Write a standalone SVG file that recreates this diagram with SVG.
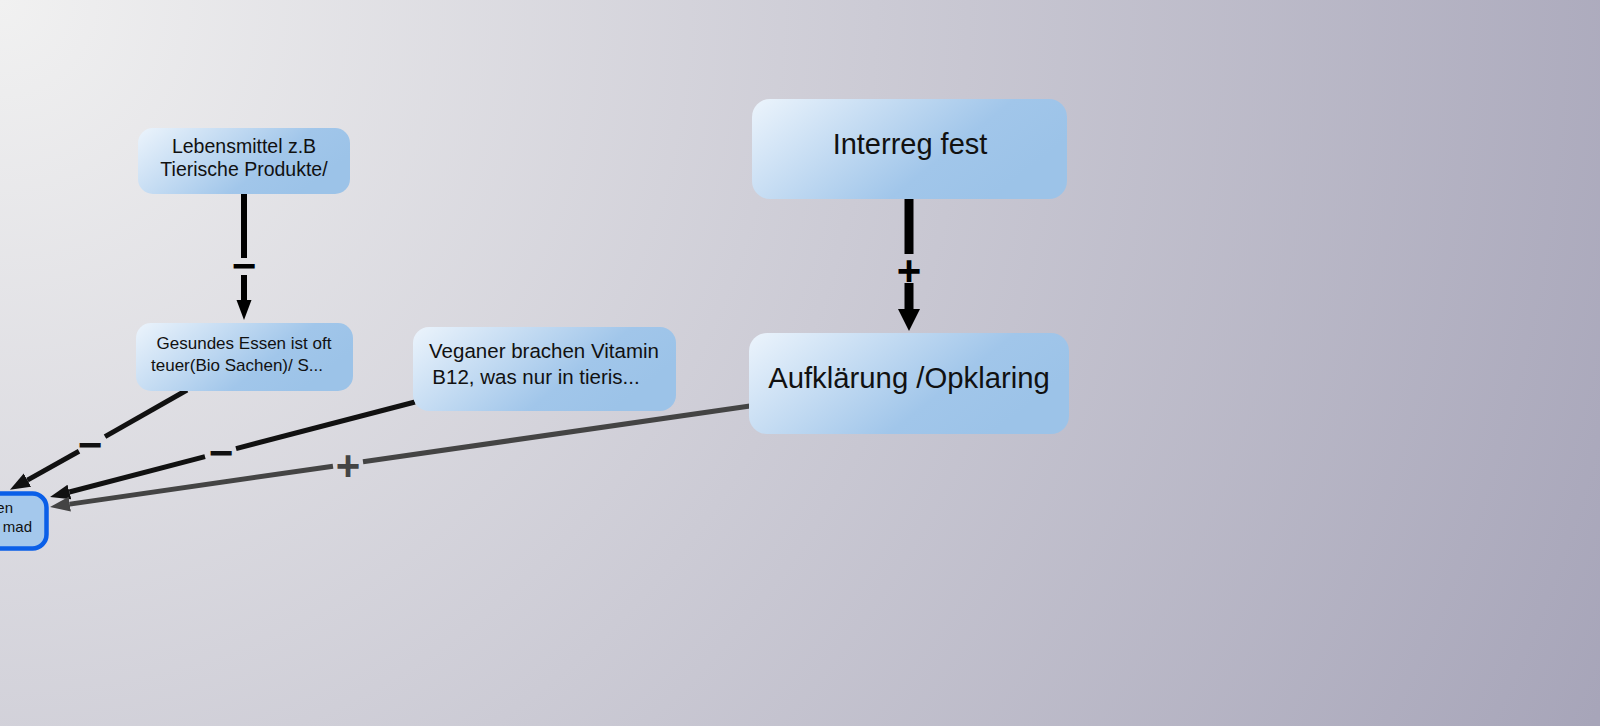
<svg xmlns="http://www.w3.org/2000/svg" width="1600" height="726" viewBox="0 0 1600 726">
  <defs>
    <radialGradient id="bg" gradientUnits="userSpaceOnUse" cx="0" cy="0" r="1750">
      <stop offset="0" stop-color="#f1f1f1"/>
      <stop offset="1" stop-color="#a7a5b9"/>
    </radialGradient>
    <linearGradient id="nodeFill" x1="0" y1="0" x2="1" y2="0.4">
      <stop offset="0" stop-color="#ecf4fc"/>
      <stop offset="0.72" stop-color="#a1c6ea"/>
      <stop offset="1" stop-color="#9cc3e8"/>
    </linearGradient>
    <marker id="arrBlack" markerUnits="userSpaceOnUse" markerWidth="22" markerHeight="16" refX="0" refY="8" orient="auto">
      <path d="M0,0.5 L20,8 L0,15.5 z" fill="#000"/>
    </marker>
    <marker id="arrBig" markerUnits="userSpaceOnUse" markerWidth="24" markerHeight="24" refX="0" refY="12" orient="auto">
      <path d="M0,1 L22,12 L0,23 z" fill="#000"/>
    </marker>
    <marker id="arrDark" markerUnits="userSpaceOnUse" markerWidth="22" markerHeight="16" refX="0" refY="8" orient="auto">
      <path d="M0,0.5 L20,8 L0,15.5 z" fill="#111"/>
    </marker>
    <marker id="arrGrey" markerUnits="userSpaceOnUse" markerWidth="22" markerHeight="16" refX="0" refY="8" orient="auto">
      <path d="M0,0.5 L20,8 L0,15.5 z" fill="#444"/>
    </marker>
  </defs>
  <style>
    .node { fill: url(#nodeFill); }
    .txt { font-family: "Liberation Sans", Arial, sans-serif; fill: #111; text-anchor: middle; }
    .lbl { font-family: "Liberation Sans", Arial, sans-serif; font-weight: bold; font-size: 42px; text-anchor: middle; }
    .ln { fill: none; stroke-linecap: butt; }
  </style>

  <rect x="0" y="0" width="1600" height="726" fill="url(#bg)"/>

  <g id="connectors">
    <!-- Lebensmittel -> Gesundes (minus) -->
    <line class="ln" x1="244" y1="194" x2="244" y2="258" stroke="#000" stroke-width="6"/>
    <line class="ln" x1="244" y1="275" x2="244" y2="300" stroke="#000" stroke-width="6" marker-end="url(#arrBlack)"/>
    <text class="lbl" x="244" y="280" fill="#000">−</text>

    <!-- Interreg -> Aufklaerung (plus) -->
    <line class="ln" x1="909" y1="199" x2="909" y2="254" stroke="#000" stroke-width="9"/>
    <line class="ln" x1="909" y1="283" x2="909" y2="309" stroke="#000" stroke-width="9" marker-end="url(#arrBig)"/>
    <text class="lbl" x="909" y="285" fill="#000">+</text>

    <!-- Gesundes -> left node (minus) -->
    <line class="ln" x1="187" y1="390" x2="105" y2="436.6" stroke="#111" stroke-width="5"/>
    <line class="ln" x1="79" y1="451.3" x2="27.4" y2="480.1" stroke="#111" stroke-width="5" marker-end="url(#arrDark)"/>
    <text class="lbl" x="90" y="459" fill="#111">−</text>

    <!-- Veganer -> left node (minus) -->
    <line class="ln" x1="415" y1="402" x2="236" y2="448.6" stroke="#111" stroke-width="5"/>
    <line class="ln" x1="205" y1="456.7" x2="69.4" y2="492" stroke="#111" stroke-width="5" marker-end="url(#arrDark)"/>
    <text class="lbl" x="221" y="467" fill="#111">−</text>

    <!-- Aufklaerung -> left node (plus) -->
    <line class="ln" x1="750" y1="406" x2="363" y2="461.8" stroke="#444" stroke-width="5"/>
    <line class="ln" x1="333" y1="466.2" x2="69.8" y2="504.1" stroke="#444" stroke-width="5" marker-end="url(#arrGrey)"/>
    <text class="lbl" x="348" y="480" fill="#444">+</text>
  </g>

  <g id="node-lebensmittel">
    <rect class="node" x="138" y="128" width="212" height="66" rx="15"/>
    <text class="txt" x="244" y="153" font-size="19.5">Lebensmittel z.B</text>
    <text class="txt" x="244" y="176" font-size="19.5">Tierische Produkte/</text>
  </g>

  <g id="node-gesundes">
    <rect class="node" x="136" y="323" width="217" height="68" rx="15"/>
    <text class="txt" x="244" y="349" font-size="17">Gesundes Essen ist oft</text>
    <text class="txt" x="237" y="371" font-size="17">teuer(Bio Sachen)/ S...</text>
  </g>

  <g id="node-veganer">
    <rect class="node" x="413" y="327" width="263" height="84" rx="16"/>
    <text class="txt" x="544" y="358" font-size="20.5">Veganer brachen Vitamin</text>
    <text class="txt" x="536" y="384" font-size="20.5">B12, was nur in tieris...</text>
  </g>

  <g id="node-interreg">
    <rect class="node" x="752" y="99" width="315" height="100" rx="18"/>
    <text class="txt" x="910" y="154" font-size="29">Interreg fest</text>
  </g>

  <g id="node-aufklaerung">
    <rect class="node" x="749" y="333" width="320" height="101" rx="18"/>
    <text class="txt" x="909" y="388" font-size="29.3">Aufklärung /Opklaring</text>
  </g>

  <g id="node-focus">
    <rect x="-200" y="493.5" width="246.5" height="55" rx="14" fill="#a4c8ec" stroke="#0a5fe8" stroke-width="4.5"/>
    <text class="txt" x="13" y="513" font-size="15" style="text-anchor:end">en</text>
    <text class="txt" x="32" y="532" font-size="15" style="text-anchor:end">mad</text>
  </g>
</svg>
